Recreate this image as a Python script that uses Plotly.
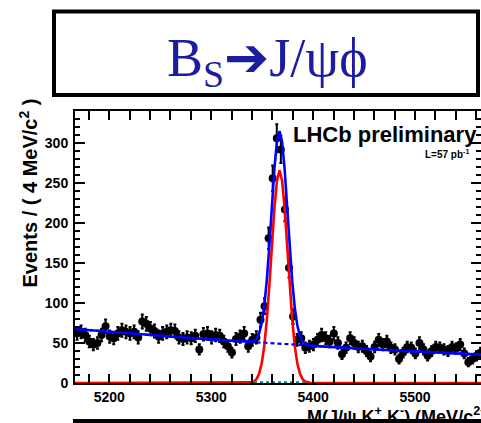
import plotly.graph_objects as go

# ---------------- data ----------------
bin_first_center = 5168.3
bin_width = 4.0
counts = [62, 64, 60, 52, 48, 50, 60, 71, 58, 56,
          62, 66, 64, 62, 64, 57, 77, 74, 68, 65,
          58, 62, 64, 66, 65, 57, 55, 57, 56, 59,
          42, 61, 62, 57, 60, 59, 52, 46, 38, 55,
          58, 62, 46, 54, 57, 79, 96, 181, 256, 306,
          292, 217, 144, 83, 54, 56, 44, 46, 48, 54,
          60, 56, 52, 62, 50, 36, 44, 56, 50, 45,
          46, 40, 33, 45, 54, 48, 52, 44, 42, 30,
          38, 45, 44, 37, 50, 42, 34, 40, 45, 44,
          42, 40, 45, 43, 48, 37, 26, 30, 34, 38]

# background component (dashed blue)
bkg_x = [5166.3, 5216.3, 5266.3, 5316.3, 5366.3, 5416.3, 5466.3, 5516.3, 5566.3]
bkg_y = [67.5, 62.3, 57.5, 53.0, 48.9, 45.1, 41.6, 38.4, 35.4]

# signal component (red)
sig_x = [5166.3, 5332, 5334.5, 5337, 5339.5, 5342, 5344.5, 5347, 5349.5, 5352, 5354.5,
         5357, 5359.5, 5362, 5364.5, 5367, 5369.5, 5372, 5374.5, 5377, 5379.5,
         5382, 5384.5, 5387, 5389.5, 5392, 5394.5, 5397, 5399.5, 5402, 5566.3]
sig_y = [0, 0.02, 0.07, 0.24, 0.72, 2.0, 5.1, 11.7, 24.3, 45.9, 78.5,
         121.8, 171.5, 219, 253, 266, 253, 219, 171.5, 121.8, 78.5,
         45.9, 24.3, 11.7, 5.1, 2.0, 0.72, 0.24, 0.07, 0.02, 0]

# total fit (solid blue)
tot_x = [5166.3, 5216.3, 5266.3, 5316.3, 5332, 5334.5, 5337, 5339.5, 5342, 5344.5, 5347,
         5349.5, 5352, 5354.5, 5357, 5359.5, 5362, 5364.5, 5367, 5369.5, 5372,
         5374.5, 5377, 5379.5, 5382, 5384.5, 5387, 5389.5, 5392, 5394.5, 5397,
         5399.5, 5402, 5416.3, 5466.3, 5516.3, 5566.3]
tot_y = [67.5, 62.3, 57.5, 53.0, 51.7, 51.6, 51.5, 51.8, 52.9, 55.8, 62.2,
         74.6, 96.0, 128.4, 171.5, 221.0, 268.3, 302.1, 314.9, 301.7, 267.5,
         219.8, 169.9, 126.4, 93.6, 71.8, 59.0, 52.2, 48.9, 47.4, 46.7,
         46.4, 46.1, 45.1, 41.6, 38.4, 35.4]

# small peaking component (teal dotted)
oth_x = [5342, 5392]
oth_y = [1.0, 1.0]

x_range = [5166.3, 5564.7]
y_range = [0, 340]

# ---------------- layout helpers ----------------
W, H = 481, 423
ML, MR, MT, MB = 75, 0, 111, 40
PW, PH = W - ML - MR, H - MT - MB


def px(x):
    return (x - ML) / PW


def py(y):
    return (H - MB - y) / PH


BLUE = "#0000ff"
RED = "#ff0000"
FONT = "Liberation Sans, Arial, Helvetica, sans-serif"

fig = go.Figure()

fig.add_trace(go.Scatter(
    x0=bin_first_center, dx=bin_width, y=counts, mode="markers",
    marker=dict(color="black", size=8),
    error_y=dict(type="sqrt", color="black", thickness=2, width=1.5),
    showlegend=False, hoverinfo="skip"))

fig.add_trace(go.Scatter(x=sig_x, y=sig_y, mode="lines",
                         line=dict(color=RED, width=2.6), showlegend=False))
fig.add_trace(go.Scatter(x=oth_x, y=oth_y, mode="lines",
                         line=dict(color="#008080", width=2, dash="dot"), showlegend=False))
fig.add_trace(go.Scatter(x=bkg_x, y=bkg_y, mode="lines",
                         line=dict(color=BLUE, width=2.2, dash="4px,3px"), showlegend=False))
fig.add_trace(go.Scatter(x=tot_x, y=tot_y, mode="lines",
                         line=dict(color=BLUE, width=2.6), showlegend=False))
# dummy trace so the right-side tick axis is drawn
fig.add_trace(go.Scatter(x=[None], y=[None], yaxis="y2", showlegend=False))

tickfont = dict(family=FONT, size=14, color="black", weight="bold")

fig.update_layout(
    width=W, height=H,
    margin=dict(l=ML, r=MR, t=MT, b=MB, pad=0),
    paper_bgcolor="white", plot_bgcolor="white",
    showlegend=False,
    xaxis=dict(range=x_range, tick0=5200, dtick=100, ticks="inside", ticklen=9,
               tickwidth=2, tickcolor="black", showline=True, linewidth=2,
               linecolor="black", mirror="allticks", showgrid=False, zeroline=False,
               tickfont=tickfont,
               minor=dict(tick0=5200, dtick=20, ticks="inside", ticklen=5,
                          tickwidth=1.5, tickcolor="black", showgrid=False)),
    yaxis=dict(range=y_range, tick0=0, dtick=50, ticks="inside", ticklen=10,
               tickwidth=2, tickcolor="black", showline=True, linewidth=2,
               linecolor="black", mirror=False, showgrid=False, zeroline=False,
               tickfont=tickfont, ticklabelstandoff=2,
               minor=dict(tick0=0, dtick=10, ticks="inside", ticklen=5,
                          tickwidth=1.5, tickcolor="black", showgrid=False)),
    yaxis2=dict(range=y_range, overlaying="y", side="right", tick0=0, dtick=50,
                ticks="inside", ticklen=10, tickwidth=2, tickcolor="black",
                showline=False, showgrid=False, zeroline=False, showticklabels=False,
                minor=dict(tick0=0, dtick=10, ticks="inside", ticklen=5,
                           tickwidth=1.5, tickcolor="black", showgrid=False)),
)

# title box
fig.add_shape(type="rect", xref="paper", yref="paper",
              x0=px(54), x1=px(478), y0=py(95), y1=py(11.5),
              line=dict(color="black", width=4), fillcolor="white", layer="below")

annotations = [
    dict(text='B<sub>S</sub><span style="font-family:DejaVu Sans">➔</span>J/ψϕ',
         x=px(267.5), y=py(60), xanchor="center", yanchor="middle",
         font=dict(family="Liberation Serif, Times New Roman, serif", size=54,
                   color="#1c1ca0")),
    dict(text="LHCb preliminary", x=px(291), y=py(134), xanchor="left", yanchor="middle",
         font=dict(family=FONT, size=22, color="black", weight="bold")),
    dict(text="L=57 pb<sup>-1</sup>", x=px(471), y=py(154), xanchor="right",
         yanchor="middle",
         font=dict(family=FONT, size=10, color="black", weight="bold")),
    dict(text="Events / ( 4 MeV/c<sup>2</sup> )", textangle=-90,
         x=px(28), y=py(97), xanchor="center", yanchor="top",
         font=dict(family=FONT, size=20, color="black", weight="bold")),
    dict(text="M(J/ψ K<sup>+</sup> K<sup>-</sup>) (MeV/c<sup>2</sup>)",
         x=px(488), y=py(402), xanchor="right", yanchor="top",
         font=dict(family=FONT, size=18, color="black", weight="bold")),
    dict(text=" ", x=px(73), y=py(419), xanchor="left", yanchor="top",
         width=430, height=12, bgcolor="black", borderpad=0, borderwidth=0,
         font=dict(size=4)),
]
for a in annotations:
    a.setdefault("xref", "paper")
    a.setdefault("yref", "paper")
    a.setdefault("showarrow", False)
    fig.add_annotation(**a)

fig.write_html("out.html")
